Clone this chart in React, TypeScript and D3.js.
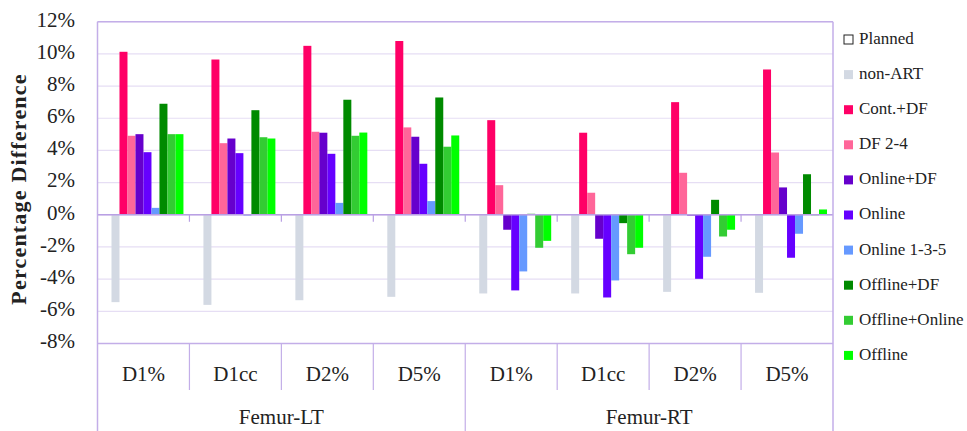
import React from "react";
import * as d3 from "d3";

// Measures along the category axis, grouped by structure
const metrics = ["D1%", "D1cc", "D2%", "D5%"];
const structures = ["Femur-LT", "Femur-RT"];

const seriesNames = [
  "Planned",
  "non-ART",
  "Cont.+DF",
  "DF 2-4",
  "Online+DF",
  "Online",
  "Online 1-3-5",
  "Offline+DF",
  "Offline+Online",
  "Offline",
];

const seriesColors = [
  "#ffffff",
  "#d3d9e3",
  "#ff0066",
  "#ff6699",
  "#6600cc",
  "#6600ff",
  "#6699ff",
  "#008a00",
  "#33cc33",
  "#00ff00",
];

// Percentage difference per series, one value per category
// (Femur-LT D1%, D1cc, D2%, D5%, Femur-RT D1%, D1cc, D2%, D5%)
const planned = [0, 0, 0, 0, 0, 0, 0, 0];
const nonArt = [-5.43, -5.6, -5.31, -5.1, -4.89, -4.89, -4.79, -4.85];
const contDf = [10.13, 9.65, 10.5, 10.8, 5.88, 5.1, 7.0, 9.03];
const df24 = [4.91, 4.45, 5.16, 5.43, 1.84, 1.37, 2.61, 3.87];
const onlineDf = [5.01, 4.74, 5.1, 4.85, -0.93, -1.49, -0.05, 1.7];
const online = [3.89, 3.83, 3.79, 3.17, -4.7, -5.14, -3.98, -2.67];
const online135 = [0.43, -0.05, 0.74, 0.85, -3.52, -4.08, -2.61, -1.18];
const offlineDf = [6.9, 6.5, 7.15, 7.29, 0.06, -0.52, 0.93, 2.52];
const offlineOnline = [5.01, 4.82, 4.91, 4.23, -2.05, -2.45, -1.35, -0.03];
const offline = [5.01, 4.74, 5.11, 4.93, -1.62, -2.05, -0.93, 0.33];

const seriesValues = [
  planned,
  nonArt,
  contDf,
  df24,
  onlineDf,
  online,
  online135,
  offlineDf,
  offlineOnline,
  offline,
];

const yTicks = [12, 10, 8, 6, 4, 2, 0, -2, -4, -6, -8];

const W = 967;
const H = 431;
const left = 97.5;
const right = 833;
const top = 21.7;
const bottom = 343.5;

const FONT = "Liberation Serif";
const BORDER = "#c3aee8";
const GRID = "#e6def4";
const INK = "#222";

const txt = (size: number, weight: string | number = "normal"): React.CSSProperties => ({
  fontFamily: FONT,
  fontSize: size,
  fontWeight: weight as any,
  fill: INK,
});

export default function App() {
  const categories = structures.flatMap((s) => metrics.map((m) => `${s}|${m}`));

  const x0 = d3.scaleBand<string>().domain(categories).range([left, right]).padding(0);
  const x1 = d3
    .scaleBand<string>()
    .domain(seriesNames)
    .range([0, x0.bandwidth()])
    .paddingInner(0)
    .paddingOuter(0.75);
  const y = d3.scaleLinear().domain([-8, 12]).range([bottom, top]);

  const groupX = d3.scaleBand<string>().domain(structures).range([left, right]);

  return (
    <svg
      width={W}
      height={H}
      style={{ position: "absolute", left: 0, top: 0, background: "#fff" }}
    >
      {/* horizontal gridlines */}
      {yTicks.map((t) => (
        <line key={`g${t}`} x1={left} x2={right} y1={y(t)} y2={y(t)} stroke={GRID} strokeWidth={1.2} />
      ))}

      {/* bars */}
      {seriesNames.map((name, si) =>
        seriesValues[si].map((v, ci) => {
          if (si === 0) return null;
          const cx = (x0(categories[ci]) ?? 0) + (x1(name) ?? 0);
          const y0 = y(0);
          const yv = y(v);
          return (
            <rect
              key={`${name}-${ci}`}
              x={cx}
              y={Math.min(y0, yv)}
              width={x1.bandwidth()}
              height={Math.abs(yv - y0)}
              fill={seriesColors[si]}
            />
          );
        })
      )}

      {/* zero axis with tick marks at category boundaries */}
      <line x1={left} x2={right} y1={y(0)} y2={y(0)} stroke="#b9a0e4" strokeWidth={1.5} />
      {categories.map((c, i) =>
        i === 0 ? null : (
          <line
            key={`zt${c}`}
            x1={x0(c)}
            x2={x0(c)}
            y1={y(0)}
            y2={y(0) + 7}
            stroke="#b9a0e4"
            strokeWidth={1.2}
          />
        )
      )}

      {/* plot frame */}
      <line x1={left} x2={right} y1={top} y2={top} stroke={BORDER} strokeWidth={1.5} />
      <line x1={left} x2={right} y1={bottom} y2={bottom} stroke={BORDER} strokeWidth={1.5} />
      <line x1={left} x2={left} y1={top} y2={H} stroke={BORDER} strokeWidth={1.5} />
      <line x1={right} x2={right} y1={top} y2={H} stroke={BORDER} strokeWidth={1.5} />

      {/* category separators */}
      {categories.map((c, i) => {
        if (i === 0) return null;
        const xx = x0(c) ?? 0;
        const full = i % metrics.length === 0;
        return (
          <line
            key={`sep${c}`}
            x1={xx}
            x2={xx}
            y1={bottom}
            y2={full ? H : 390}
            stroke={BORDER}
            strokeWidth={1.2}
          />
        );
      })}

      {/* category labels */}
      {categories.map((c) => (
        <text
          key={`lab${c}`}
          x={(x0(c) ?? 0) + x0.bandwidth() / 2}
          y={376}
          textAnchor="middle"
          dominantBaseline="middle"
          style={txt(21)}
        >
          {c.split("|")[1]}
        </text>
      ))}
      {structures.map((s) => (
        <text
          key={`st${s}`}
          x={(groupX(s) ?? 0) + groupX.bandwidth() / 2}
          y={419}
          textAnchor="middle"
          dominantBaseline="middle"
          style={txt(21)}
        >
          {s}
        </text>
      ))}

      {/* y-axis tick labels */}
      {yTicks.map((t) => (
        <text
          key={`yl${t}`}
          x={75}
          y={y(t)}
          textAnchor="end"
          dominantBaseline="middle"
          style={txt(21)}
        >
          {`${t}%`}
        </text>
      ))}

      {/* y-axis title */}
      <text
        transform={`translate(21,189) rotate(-90)`}
        textAnchor="middle"
        dominantBaseline="middle"
        style={{ ...txt(22, "bold"), letterSpacing: 1.2 }}
      >
        Percentage Difference
      </text>

      {/* legend */}
      {seriesNames.map((name, i) => {
        const ly = 40 + i * 35.1;
        return (
          <g key={`lg${name}`}>
            <rect
              x={844}
              y={ly - 5}
              width={9}
              height={9}
              fill={seriesColors[i]}
              stroke={i === 0 ? INK : "none"}
              strokeWidth={1}
            />
            <text x={859} y={ly} dominantBaseline="middle" style={txt(17)}>
              {name}
            </text>
          </g>
        );
      })}
    </svg>
  );
}
